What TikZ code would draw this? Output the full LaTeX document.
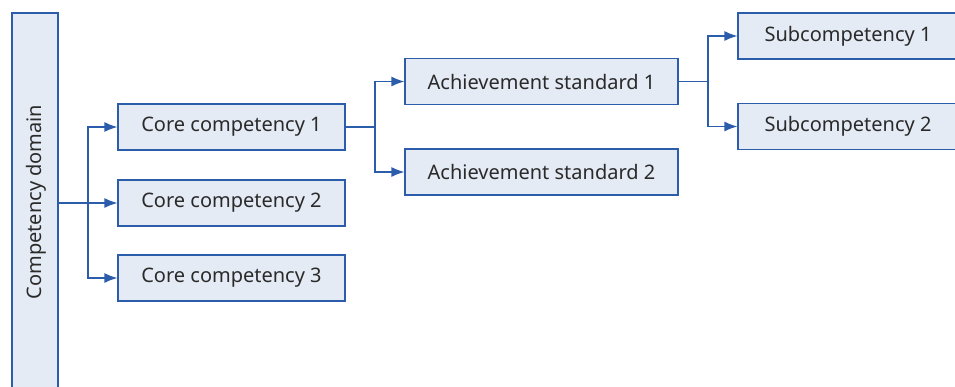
\documentclass[tikz,border=0pt]{standalone}
\usepackage{fontspec}
\setmainfont{Noto Sans}
\usetikzlibrary{arrows.meta}
\definecolor{bdr}{HTML}{2B5DAB}
\definecolor{fil}{HTML}{E4EBF5}
\definecolor{txt}{HTML}{2A2A2A}
\begin{document}
\begin{tikzpicture}[x=1pt,y=-1pt,
  box/.style={draw=bdr,fill=fil,line width=1.2pt,inner sep=0pt,text=txt,font=\fontsize{20}{23}\selectfont},
  conn/.style={draw=bdr,line width=1.2pt},
  arr/.style={conn,-{Latex[length=13pt,width=10pt]}}]
\useasboundingbox (0,0) rectangle (955,386);
\begin{scope}
\clip (0,0) rectangle (955,386);
\node[box,minimum width=46pt,minimum height=390pt] (dom) at (35,208) {};
\node[rotate=90,text=txt,font=\fontsize{20}{23}\selectfont] (domt) at (36,202) {Competency domain};
\node[box,minimum width=227pt,minimum height=46pt] (c1) at (231.5,127) {Core competency 1};
\node[box,minimum width=227pt,minimum height=46pt] (c2) at (231.5,203) {Core competency 2};
\node[box,minimum width=227pt,minimum height=46pt] (c3) at (231.5,278) {Core competency 3};
\node[box,minimum width=273pt,minimum height=46pt] (a1) at (541.5,81.5) {Achievement standard 1};
\node[box,minimum width=273pt,minimum height=46pt] (a2) at (541.5,172) {Achievement standard 2};
\node[box,minimum width=220pt,minimum height=46pt] (s1) at (848,36) {Subcompetency 1};
\node[box,minimum width=220pt,minimum height=46pt] (s2) at (848,126.5) {Subcompetency 2};
\coordinate (b1) at (88,203);
\coordinate (b2) at (375,127);
\coordinate (b3) at (708,81.5);
\draw[arr] (dom.east |- c2) -- (c2.west);
\draw[arr] (b1) -- (b1 |- c1) -- (c1.west);
\draw[arr] (b1) -- (b1 |- c3) -- (c3.west);
\draw[conn] (c1.east) -- (b2);
\draw[arr] (b2) -- (b2 |- a1) -- (a1.west);
\draw[arr] (b2) -- (b2 |- a2) -- (a2.west);
\draw[conn] (a1.east) -- (b3);
\draw[arr] (b3) -- (b3 |- s1) -- (s1.west);
\draw[arr] (b3) -- (b3 |- s2) -- (s2.west);
\end{scope}
\end{tikzpicture}
\end{document}
